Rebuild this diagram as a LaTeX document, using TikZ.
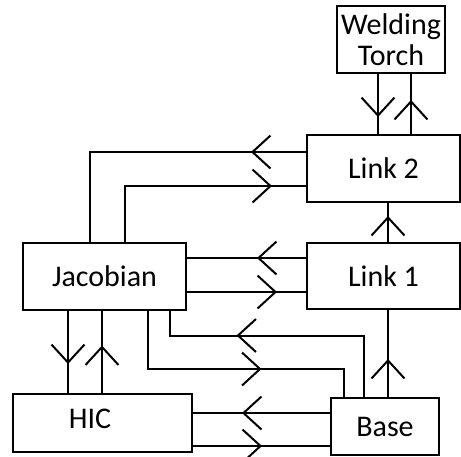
\documentclass[tikz,border=0pt]{standalone}
\usepackage{fontspec}
\setmainfont{Carlito}
\usetikzlibrary{arrows.meta, calc, decorations.markings}

\begin{document}
\begin{tikzpicture}[x=0.5pt, y=-0.5pt,
  font=\fontsize{15}{15.5}\selectfont,
  box/.style={draw, line width=1pt, inner sep=0pt, align=center},
  wire/.style={line width=1pt},
  arr/.style={postaction={decorate, decoration={markings,
    mark=at position #1 with {\arrow{Straight Barb[length=9pt, width=16.5pt]}}}}}]
\useasboundingbox (0,0) rectangle (461,456);

% Blocks
\node[box, minimum width=54pt, minimum height=33.5pt] (T) at (391,39.5) {Welding\\Torch};
\node[box, minimum width=76.5pt, minimum height=33.5pt] (L2) at (383.5,168.5) {Link 2};
\node[box, minimum width=76.5pt, minimum height=33pt] (L1) at (383.5,276) {Link 1};
\node[box, minimum width=81.5pt, minimum height=33.5pt] (J) at (104.5,276) {Jacobian};
\node[box, minimum width=89.5pt, minimum height=29pt, label={[xshift=-6.25pt, yshift=2pt]center:HIC}] (H) at (102.5,423) {};
\node[box, minimum width=54pt, minimum height=28.5pt] (B) at (385,426.5) {\raisebox{-1.25pt}{Base}};

% Welding Torch <-> Link 2
\draw[wire, arr=-8.5pt] ($(T.south)+(-13,0)$) -- ($(L2.north)+(-5.5,0)$);
\draw[wire, arr=-13pt] ($(L2.north)+(27.5,0)$) -- ($(T.south)+(20,0)$);

% Link 2 <-> Jacobian
\draw[wire, arr=27.5pt] ($(L2.west)+(0,-16.5)$) -| ($(J.north)+(-14.5,0)$);
\draw[wire, arr=-17pt] ($(J.north)+(20.5,0)$) |- ($(L2.west)+(0,17.5)$);

% Link 1 <-> Jacobian
\draw[wire, arr=24.5pt] ($(L1.west)+(0,-18)$) -- ($(J.east)+(0,-18)$);
\draw[wire, arr=-14.5pt] ($(J.east)+(0,16)$) -- ($(L1.west)+(0,16)$);

% Base -> Link 1 -> Link 2
\coordinate (b3) at ($(B.north)+(3,0)$);
\draw[wire, arr=-6.5pt] (b3 |- L1.north) -- (b3 |- L2.south);
\draw[wire, arr=-24.5pt] (b3) -- (b3 |- L1.south);

% Jacobian <-> HIC
\draw[wire, arr=-14.5pt] ($(J.south)+(-36.5,0)$) -- ($(H.north)+(-34.5,0)$);
\draw[wire, arr=-17.5pt] ($(H.north)+(-0.5,0)$) -- ($(J.south)+(-2.5,0)$);

% Jacobian <-> Base
\draw[wire, arr=86pt] ($(J.south)+(43.5,0)$) |- ($(B.north)+(-41,-28)$) -- ($(B.north)+(-41,0)$);
\draw[wire, arr=94.5pt] ($(B.north)+(-21,0)$) |- ($(J.south)+(65.5,25)$) -- ($(J.south)+(65.5,0)$);

% HIC <-> Base
\draw[wire, arr=44pt] ($(B.west)+(0,-13.5)$) -- ($(H.east)+(0,-10)$);
\draw[wire, arr=-34pt] ($(H.east)+(0,23)$) -- ($(B.west)+(0,19.5)$);
\end{tikzpicture}
\end{document}
